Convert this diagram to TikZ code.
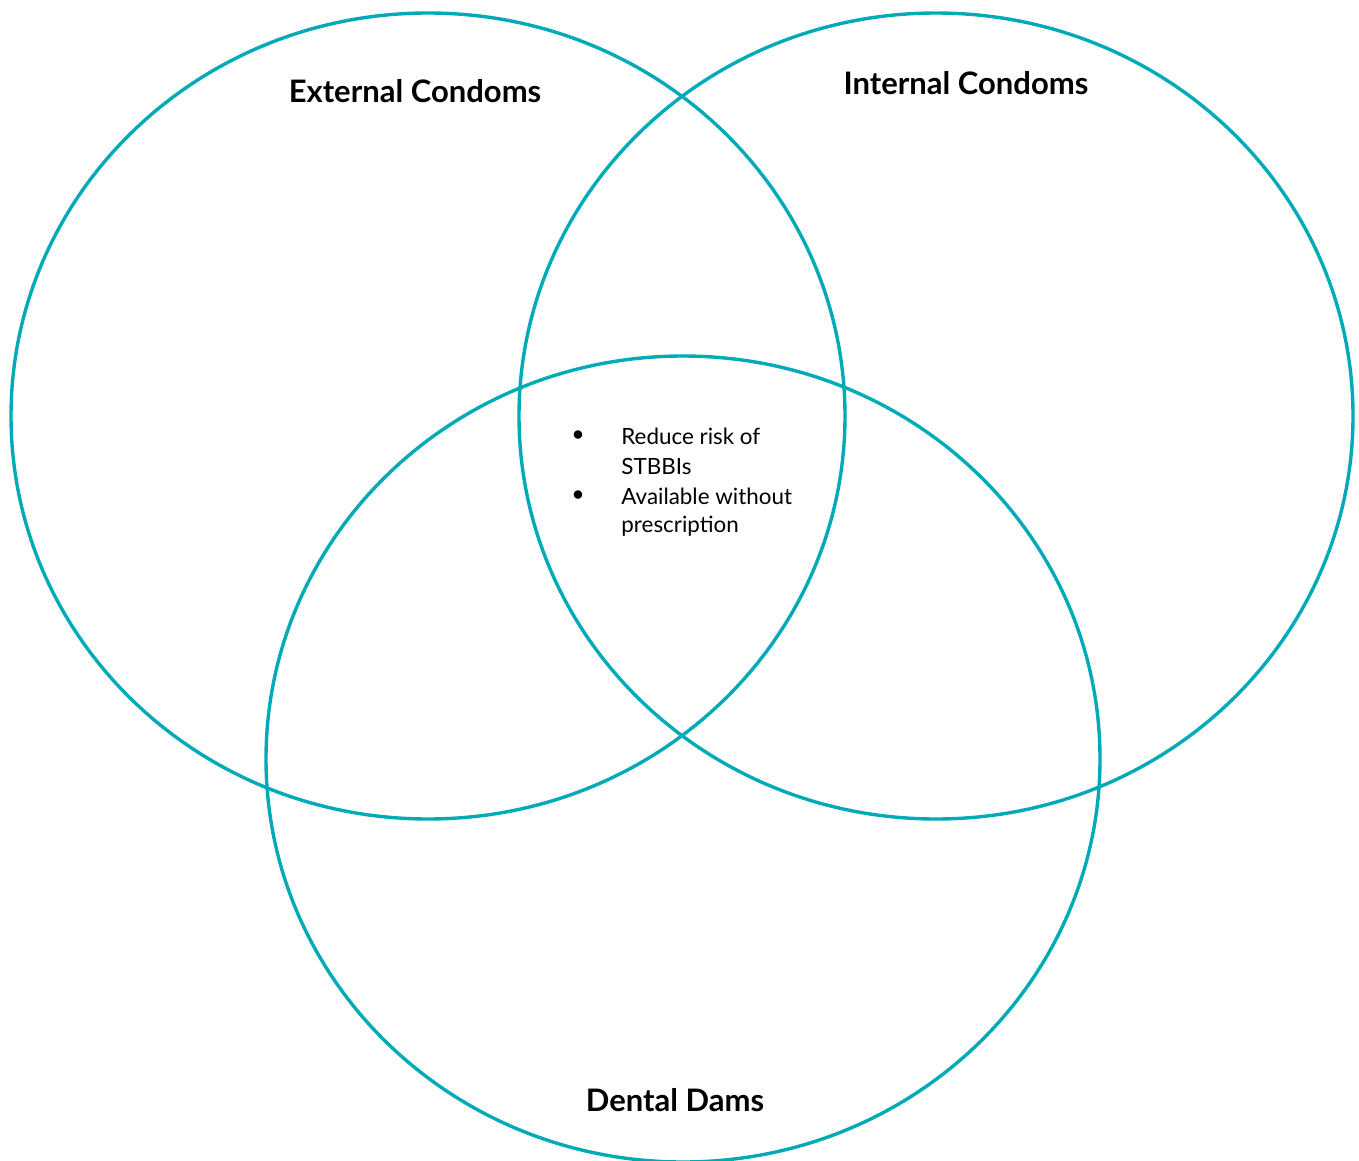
\documentclass[tikz,border=0pt]{standalone}
\usepackage{fontspec}
\setmainfont{Lato}
\usetikzlibrary{shapes.geometric}

\definecolor{venncol}{RGB}{0,170,183}

\tikzset{
  venn/.style={ellipse, draw=venncol, line width=1.7pt, minimum width=417pt, minimum height=403pt, inner sep=0pt},
  title/.style={font=\fontsize{15.5}{18}\selectfont\bfseries},
  item/.style={font=\fontsize{11.2}{15}\selectfont, anchor=west, inner sep=0pt}
}

\begin{document}
\begin{tikzpicture}[x=0.5pt, y=-0.5pt]

\useasboundingbox (0,0) rectangle (1359,1161);

% the three sets
\node [venn] (external) at (428,416) {};
\node [venn] (internal) at (936,416) {};
\node [venn] (dental)   at (683,759) {};

% set titles
\node [title] (external-title) at (415,91)  {External Condoms};
\node [title] (internal-title) at (966,83)  {Internal Condoms};
\node [title] (dental-title)   at (675,1100) {Dental Dams};

% shared points
\foreach \m in {1,2}
  \node [font=\fontsize{10.5}{15}\selectfont, inner sep=0pt] (bullet-\m) at (578,376+\m*60) {$\bullet$};

\foreach \l [count=\y] in {Reduce risk of, STBBIs, Available without, prescription}
  \node [item] (item-\y) at (621,406+\y*30) {\l};

\end{tikzpicture}
\end{document}
